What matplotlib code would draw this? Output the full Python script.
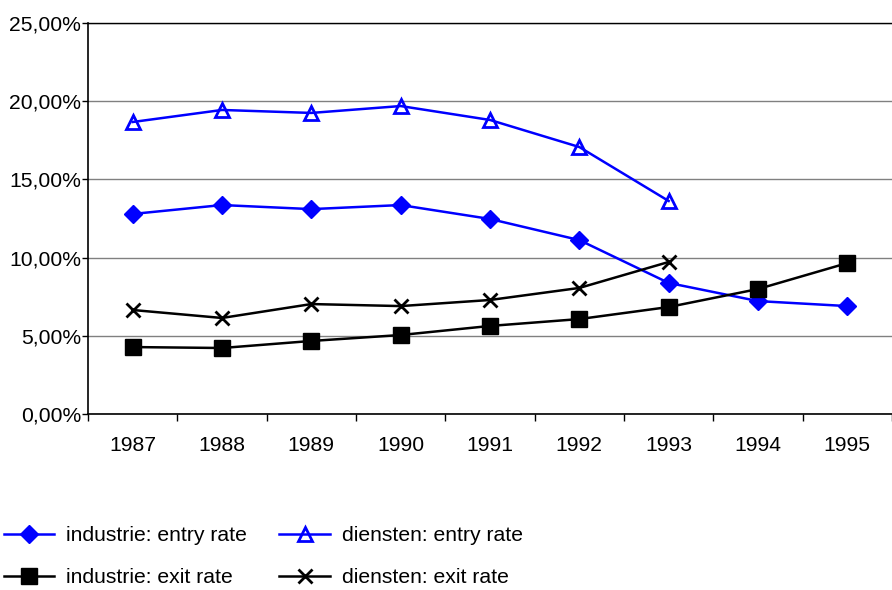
import matplotlib
matplotlib.use("Agg")
import matplotlib.pyplot as plt
import numpy as np
from matplotlib.ticker import FuncFormatter, FixedLocator

years = ["1987", "1988", "1989", "1990", "1991", "1992", "1993", "1994", "1995"]
ind_entry = [12.79, 13.36, 13.10, 13.36, 12.47, 11.12, 8.38, 7.22, 6.90]
dien_entry = [18.67, 19.44, 19.25, 19.69, 18.80, 17.07, 13.62]
ind_exit = [4.28, 4.22, 4.67, 5.05, 5.63, 6.07, 6.84, 7.99, 9.65]
dien_exit = [6.65, 6.14, 7.03, 6.90, 7.29, 8.06, 9.72]

plt.rcParams['font.family'] = ['Liberation Sans', 'DejaVu Sans']
FS = 15.2

fig = plt.figure(figsize=(8.92, 5.90), dpi=100)
ax = fig.add_axes([88/892, 1-414/590, 1-88/892, (414-23)/590])

x_all = np.arange(len(years))
blue = "#0000FF"
LW = 1.8
l1, = ax.plot(x_all, ind_entry, color=blue, lw=LW, marker="D", ms=9, mfc=blue, mec=blue,
              label="industrie: entry rate")
l2, = ax.plot(x_all[:len(dien_entry)], dien_entry, color=blue, lw=LW, marker="^", ms=10.5,
              mfc="none", mec=blue, mew=2, label="diensten: entry rate")
l3, = ax.plot(x_all, ind_exit, color="black", lw=LW, marker="s", ms=11, mfc="black", mec="black",
              label="industrie: exit rate")
l4, = ax.plot(x_all[:len(dien_exit)], dien_exit, color="black", lw=LW, marker="x", ms=10,
              mew=2, label="diensten: exit rate")

ax.set_xlim(-0.5, len(years) - 0.5)
ax.set_ylim(0, 25)
ax.set_yticks([0, 5, 10, 15, 20, 25])
ax.yaxis.set_major_formatter(FuncFormatter(lambda v, p: f"{v:.2f}".replace(".", ",") + "%"))
ax.set_xticks(x_all)
ax.set_xticklabels(years)
ax.xaxis.set_minor_locator(FixedLocator(np.arange(-0.5, len(years), 1.0)))
ax.tick_params(axis="x", which="major", length=0, pad=16, labelsize=FS)
ax.tick_params(axis="x", which="minor", length=5, width=1, direction="out")
ax.tick_params(axis="y", which="major", length=4, width=1, direction="out", labelsize=FS, pad=1)
ax.yaxis.grid(True, color="#808080", lw=1)
ax.set_axisbelow(True)
ax.spines["right"].set_visible(False)
ax.spines["top"].set_color("black")
ax.spines["top"].set_linewidth(1)
ax.spines["left"].set_linewidth(1.2)
ax.spines["bottom"].set_linewidth(1.2)

fig.legend(handles=[l1, l3, l2, l4], ncol=2, loc="center left", bbox_to_anchor=(0.004, 1-556.5/590),
           frameon=False, fontsize=FS, handlelength=2.4, handletextpad=0.55, columnspacing=1.55,
           labelspacing=1.1, borderaxespad=0, borderpad=0)

fig.savefig("out.png", dpi=100)
